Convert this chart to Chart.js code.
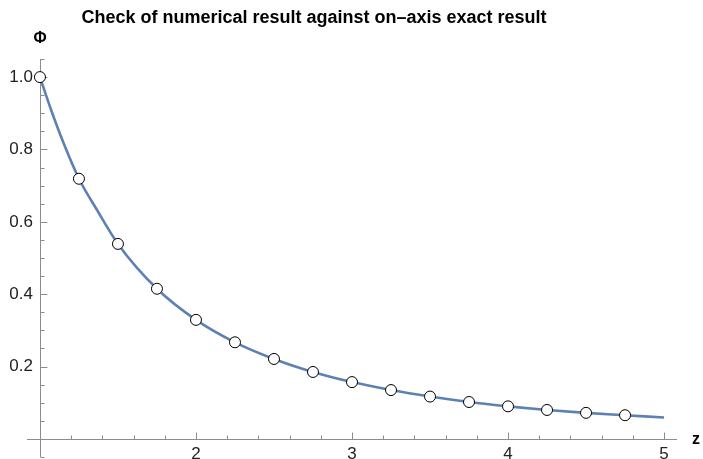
<!DOCTYPE html>
<html>
<head>
<meta charset="utf-8">
<script src="https://cdn.jsdelivr.net/npm/chart.js@4"></script>
<style>
  html, body { margin: 0; padding: 0; background: #ffffff; }
  #wrap { width: 703px; height: 459px; position: relative; }
</style>
</head>
<body>
<div id="wrap"><canvas id="c" width="703" height="459"></canvas></div>
<script>
// ---- data ----
const titleText = "Check of numerical result against on\u2013axis exact result";
const xAxisLabel = "z";
const yAxisLabel = "\u03A6";

// exact (solid curve) values
const curveZ   = [1, 1.07, 1.15, 1.25, 1.364, 1.5, 1.75, 2, 2.25, 2.5, 2.75, 3, 3.25, 3.5, 3.75, 4, 4.25, 4.5, 4.75, 5];
const curvePhi = [1, 0.911, 0.819, 0.719, 0.634, 0.539, 0.415, 0.329, 0.267, 0.221, 0.185, 0.157, 0.135, 0.117, 0.102, 0.090, 0.080, 0.072, 0.0655, 0.059];

// numerical result (open circles)
const pointZ   = [1, 1.25, 1.5, 1.75, 2, 2.25, 2.5, 2.75, 3, 3.25, 3.5, 3.75, 4, 4.25, 4.5, 4.75];
const pointPhi = [1, 0.719, 0.539, 0.415, 0.329, 0.267, 0.221, 0.185, 0.157, 0.135, 0.117, 0.102, 0.090, 0.080, 0.072, 0.0655];

// axes
const xRange = [0.917, 5.083];
const yRange = [-0.05, 1.05];
const xTickLabels = [2, 3, 4, 5];
const yTickLabels = [0.2, 0.4, 0.6, 0.8, 1.0];
const xMajorTicks = [1, 2, 3, 4, 5];
const yMajorTicks = [0, 0.2, 0.4, 0.6, 0.8, 1.0];
const xMinorStep = 0.2;
const yMinorStep = 0.05;
const axesCross = { x: 1, y: 0 };

// ---- styles ----
const curveColor = "rgb(94,129,181)";
const axisColor = "#8c8c8c";
const labelColor = "#222222";
const fontFamily = '"Liberation Sans", Arial, sans-serif';
const yLabelGapPx = 7;

const toXY = (xs, ys) => xs.map((x, i) => ({ x: x, y: ys[i] }));

const axesPlugin = {
  id: "mmaAxes",
  beforeDatasetsDraw(chart) {
    const ctx = chart.ctx;
    const xs = chart.scales.x, ys = chart.scales.y;
    const area = chart.chartArea;
    const x0 = Math.round(xs.getPixelForValue(axesCross.x)) + 0.5;
    const y0 = Math.round(ys.getPixelForValue(axesCross.y)) + 0.5;
    ctx.save();
    ctx.strokeStyle = axisColor;
    ctx.lineWidth = 1;
    ctx.beginPath();
    ctx.moveTo(area.left, y0);
    ctx.lineTo(area.right, y0);
    ctx.moveTo(x0, area.top);
    ctx.lineTo(x0, area.bottom);
    ctx.stroke();
    ctx.beginPath();
    for (let k = Math.ceil(xRange[0] / xMinorStep); k * xMinorStep <= xRange[1] + 1e-9; k++) {
      const v = k * xMinorStep;
      const major = xMajorTicks.some(m => Math.abs(m - v) < 1e-6);
      const px = Math.round(xs.getPixelForValue(v)) + 0.5;
      ctx.moveTo(px, y0);
      ctx.lineTo(px, y0 - (major ? 7 : 4));
    }
    for (let k = Math.ceil(yRange[0] / yMinorStep - 1e-9); k * yMinorStep <= yRange[1] + 1e-9; k++) {
      const v = k * yMinorStep;
      const major = yMajorTicks.some(m => Math.abs(m - v) < 1e-6);
      const py = Math.round(ys.getPixelForValue(v)) + 0.5;
      ctx.moveTo(x0, py);
      ctx.lineTo(x0 + (major ? 7 : 4), py);
    }
    ctx.stroke();
    ctx.restore();
  },
  afterDraw(chart) {
    const ctx = chart.ctx;
    ctx.save();
    ctx.fillStyle = "#000000";
    ctx.font = "bold 18px " + fontFamily;
    ctx.textAlign = "center";
    ctx.textBaseline = "alphabetic";
    ctx.fillText(titleText, 314, 23);
    ctx.font = "bold 16px " + fontFamily;
    ctx.fillText(yAxisLabel, 40, 43);
    ctx.fillText(xAxisLabel, 696, 444);
    ctx.restore();
  }
};

const noSpace = horizontal => s => {
  if (horizontal) { s.height = 0; } else { s.width = 0; }
  s.paddingTop = 0; s.paddingBottom = 0; s.paddingLeft = 0; s.paddingRight = 0;
};

new Chart(document.getElementById("c"), {
  type: "scatter",
  data: {
    datasets: [
      {
        label: "exact",
        data: toXY(curveZ, curvePhi),
        showLine: true,
        borderColor: curveColor,
        borderWidth: 2.6,
        pointRadius: 0,
        pointHoverRadius: 0,
        fill: false,
        cubicInterpolationMode: "monotone",
        order: 2
      },
      {
        label: "numerical",
        data: toXY(pointZ, pointPhi),
        showLine: false,
        pointRadius: 5.5,
        pointBackgroundColor: "#ffffff",
        pointBorderColor: "#000000",
        pointBorderWidth: 1,
        order: 1
      }
    ]
  },
  options: {
    responsive: false,
    animation: false,
    devicePixelRatio: 1,
    layout: { autoPadding: false, padding: { left: 27, right: 26, top: 59, bottom: 2 } },
    plugins: {
      legend: { display: false },
      title: { display: false },
      tooltip: { enabled: false }
    },
    scales: {
      x: {
        type: "linear",
        min: xRange[0],
        max: xRange[1],
        position: { y: axesCross.y },
        grid: { display: false, drawTicks: false },
        border: { display: false },
        afterFit: noSpace(true),
        afterBuildTicks: s => { s.ticks = xTickLabels.map(v => ({ value: v })); },
        ticks: {
          padding: 5,
          color: labelColor,
          font: { family: fontFamily, size: 17 },
          maxRotation: 0,
          callback: v => String(v)
        }
      },
      y: {
        type: "linear",
        min: yRange[0],
        max: yRange[1],
        // labels are anchored a few pixels left of the x = 1 axis line
        position: { x: axesCross.x - yLabelGapPx / 156.4 },
        grid: { display: false, drawTicks: false },
        border: { display: false },
        afterFit: noSpace(false),
        afterBuildTicks: s => { s.ticks = yTickLabels.map(v => ({ value: v })); },
        ticks: {
          padding: 0,
          color: labelColor,
          font: { family: fontFamily, size: 17 },
          callback: v => Number(v).toFixed(1)
        }
      }
    }
  },
  plugins: [axesPlugin]
});
</script>
</body>
</html>
